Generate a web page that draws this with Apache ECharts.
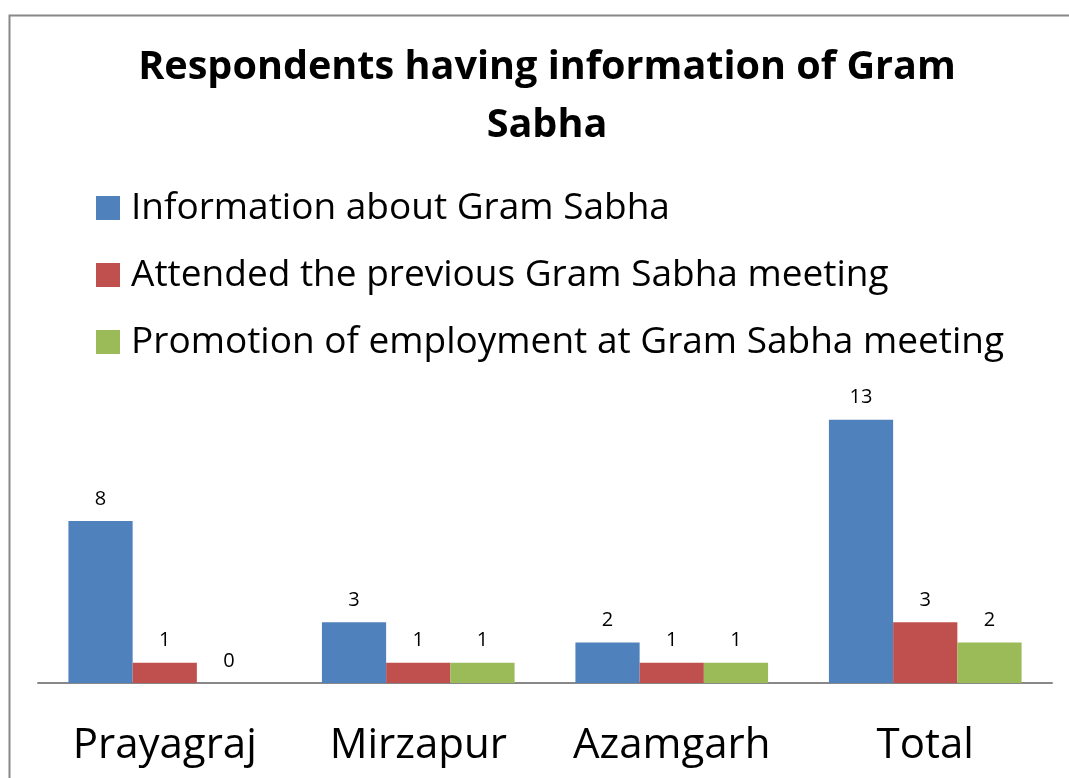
<!DOCTYPE html>
<html>
<head>
<meta charset="utf-8">
<script src="https://cdn.jsdelivr.net/npm/echarts@6/dist/echarts.min.js"></script>
<style>
  html, body { margin: 0; padding: 0; background: #fff; }
  #chart { width: 1069px; height: 778px; }
</style>
</head>
<body>
<div id="chart"></div>
<script>
const categories = ['Prayagraj', 'Mirzapur', 'Azamgarh', 'Total'];
const infoAboutGramSabha = [8, 3, 2, 13];
const attendedPrevMeeting = [1, 1, 1, 3];
const promotionOfEmployment = [0, 1, 1, 2];
const seriesNames = [
  'Information about Gram Sabha',
  'Attended the previous Gram Sabha meeting',
  'Promotion of employment at Gram Sabha meeting'
];
const colors = ['#4F81BD', '#C0504D', '#9BBB59'];

const font = 'Open Sans';
const myChart = echarts.init(document.getElementById('chart'));

const barLabel = {
  show: true,
  position: 'top',
  distance: 12,
  color: '#000',
  fontFamily: font,
  fontSize: 20
};

const option = {
  animation: false,
  color: colors,
  title: {
    text: 'Respondents having information of Gram\nSabha',
    left: 542,
    textAlign: 'center',
    top: 34,
    textStyle: {
      fontFamily: font,
      fontWeight: 'bold',
      fontSize: 39.6,
      lineHeight: 58,
      color: '#000'
    }
  },
  legend: {
    orient: 'vertical',
    left: 96,
    top: 186,
    padding: 0,
    itemWidth: 24,
    itemHeight: 24,
    itemGap: 23,
    icon: 'rect',
    textStyle: {
      fontFamily: font,
      fontSize: 37,
      lineHeight: 44,
      color: '#000',
      padding: [0, 0, 0, 6]
    }
  },
  grid: {
    left: 38,
    right: 17,
    top: 359,
    bottom: 95,
    containLabel: false
  },
  xAxis: {
    type: 'category',
    data: categories,
    axisLine: { lineStyle: { color: '#888', width: 2 } },
    axisTick: { show: false },
    axisLabel: {
      interval: 0,
      hideOverlap: false,
      fontFamily: font,
      fontSize: 42,
      color: '#000',
      margin: 42
    }
  },
  yAxis: {
    type: 'value',
    min: 0,
    max: 16,
    show: false,
    splitLine: { show: false }
  },
  graphic: [{
    type: 'rect',
    shape: { x: 9.5, y: 15.5, width: 1100, height: 800 },
    style: { fill: 'none', stroke: '#888', lineWidth: 2 },
    silent: true
  }],
  series: [
    { name: seriesNames[0], type: 'bar', data: infoAboutGramSabha, barGap: '0%', barCategoryGap: '24%', label: barLabel },
    { name: seriesNames[1], type: 'bar', data: attendedPrevMeeting, barGap: '0%', barCategoryGap: '24%', label: barLabel },
    { name: seriesNames[2], type: 'bar', data: promotionOfEmployment, barGap: '0%', barCategoryGap: '24%', label: barLabel }
  ]
};

myChart.setOption(option);
</script>
</body>
</html>
